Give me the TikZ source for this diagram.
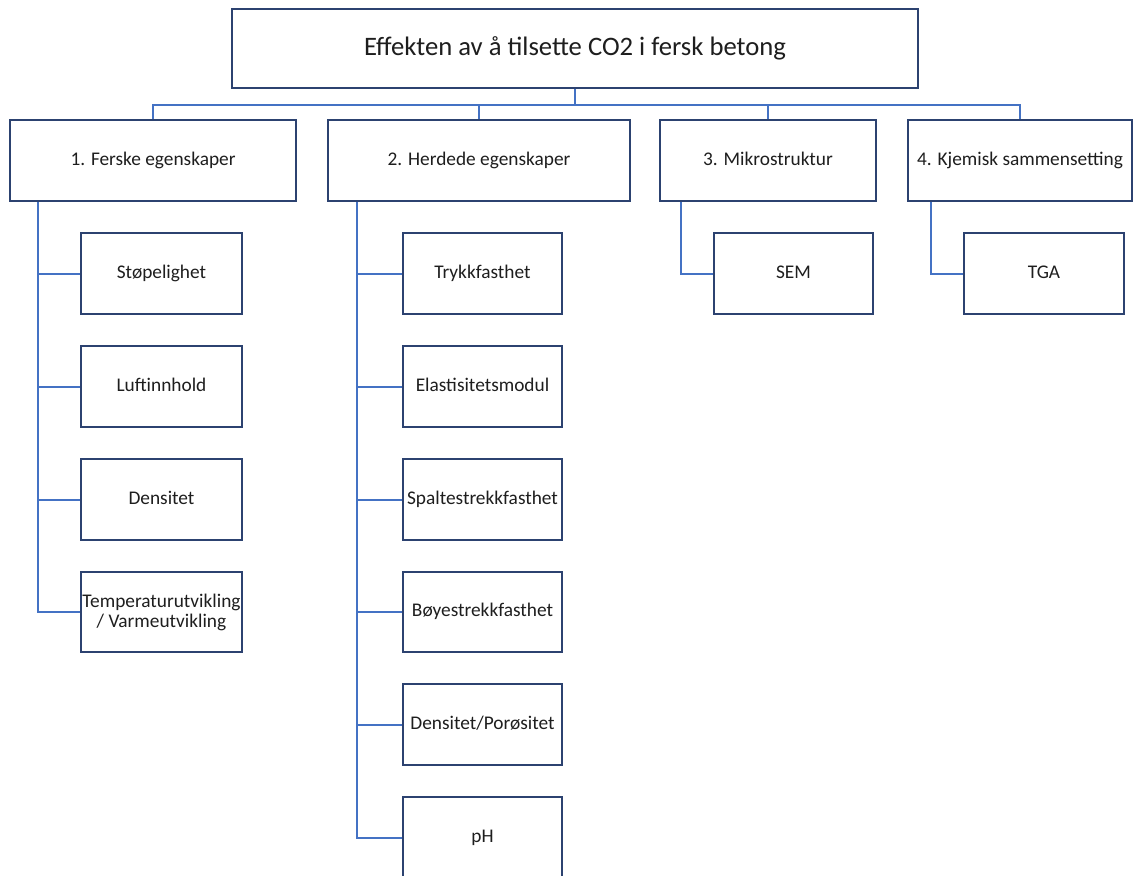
\documentclass[tikz,border=0pt]{standalone}
\usepackage{fontspec}
\setmainfont{Carlito}
\definecolor{boxline}{RGB}{44,66,112}
\definecolor{linkblue}{RGB}{68,114,196}
\definecolor{textgrey}{RGB}{30,30,30}
\begin{document}
\begin{tikzpicture}[x=0.75pt, y=-0.75pt,
    box/.style={draw=boxline, line width=1.5pt, fill=white, text=textgrey, inner sep=0pt, align=center,
        text height=10pt, text depth=3pt, font=\fontsize{14.5}{16}\selectfont},
    topbox/.style={box, minimum width=514.5pt, minimum height=59pt, text height=14pt, text depth=4pt,
        font=\fontsize{20}{24}\selectfont},
    mainbox/.style={box, minimum height=60.5pt},
    subbox/.style={box, minimum width=121pt, minimum height=60.5pt},
    link/.style={draw=linkblue, line width=1.5pt}]
    \useasboundingbox (0,0) rectangle (1134,875);
    \node[topbox] (effekt) at (575,48.5) {Effekten av å tilsette CO2 i fersk betong};
    \node[mainbox, minimum width=214.5pt] (ferske) at (153,160.5) {1. Ferske egenskaper};
    \node[mainbox, minimum width=226.5pt] (herdede) at (479,160.5) {2. Herdede egenskaper};
    \node[mainbox, minimum width=162pt] (mikro) at (768,160.5) {3. Mikrostruktur};
    \node[mainbox, minimum width=168pt] (kjemisk) at (1020,160.5) {4. Kjemisk sammensetting};
    % ferske egenskaper
    \node[subbox] (stopelighet) at (161.5,273.5) {Støpelighet};
    \node[subbox] (luft) at (161.5,386.5) {Luftinnhold};
    \node[subbox] (densitet) at (161.5,499.5) {Densitet};
    \node[subbox, text height={}, text depth={}, font=\fontsize{14.5}{15}\selectfont] (temp) at (161.5,612)
        {Temperaturutvikling\\/ Varmeutvikling};
    % herdede egenskaper
    \node[subbox, minimum width=119pt] (trykk) at (482.5,273.5) {Trykkfasthet};
    \node[subbox, minimum width=119pt] (emodul) at (482.5,386.5) {Elastisitetsmodul};
    \node[subbox, minimum width=119pt] (spalte) at (482.5,499.5) {Spaltestrekkfasthet};
    \node[subbox, minimum width=119pt] (boye) at (482.5,612) {Bøyestrekkfasthet};
    \node[subbox, minimum width=119pt] (porositet) at (482.5,724.5) {Densitet/Porøsitet};
    \node[subbox, minimum width=119pt] (ph) at (482.5,837.5) {pH};
    % mikrostruktur og kjemi
    \node[subbox, minimum width=119pt] (sem) at (793.5,273.5) {SEM};
    \node[subbox, minimum width=120pt] (tga) at (1044,273.5) {TGA};

    \foreach \n in {ferske,herdede,mikro,kjemisk}
        \draw[link] (effekt.south) -- ++(0,16) -| (\n.north);
    \foreach \n in {stopelighet,luft,densitet,temp}
        \draw[link] ([xshift=21.75pt]ferske.south west) |- (\n.west);
    \foreach \n in {trykk,emodul,spalte,boye,porositet,ph}
        \draw[link] ([xshift=22.5pt]herdede.south west) |- (\n.west);
    \draw[link] ([xshift=16.5pt]mikro.south west) |- (sem.west);
    \draw[link] ([xshift=18pt]kjemisk.south west) |- (tga.west);
\end{tikzpicture}
\end{document}
